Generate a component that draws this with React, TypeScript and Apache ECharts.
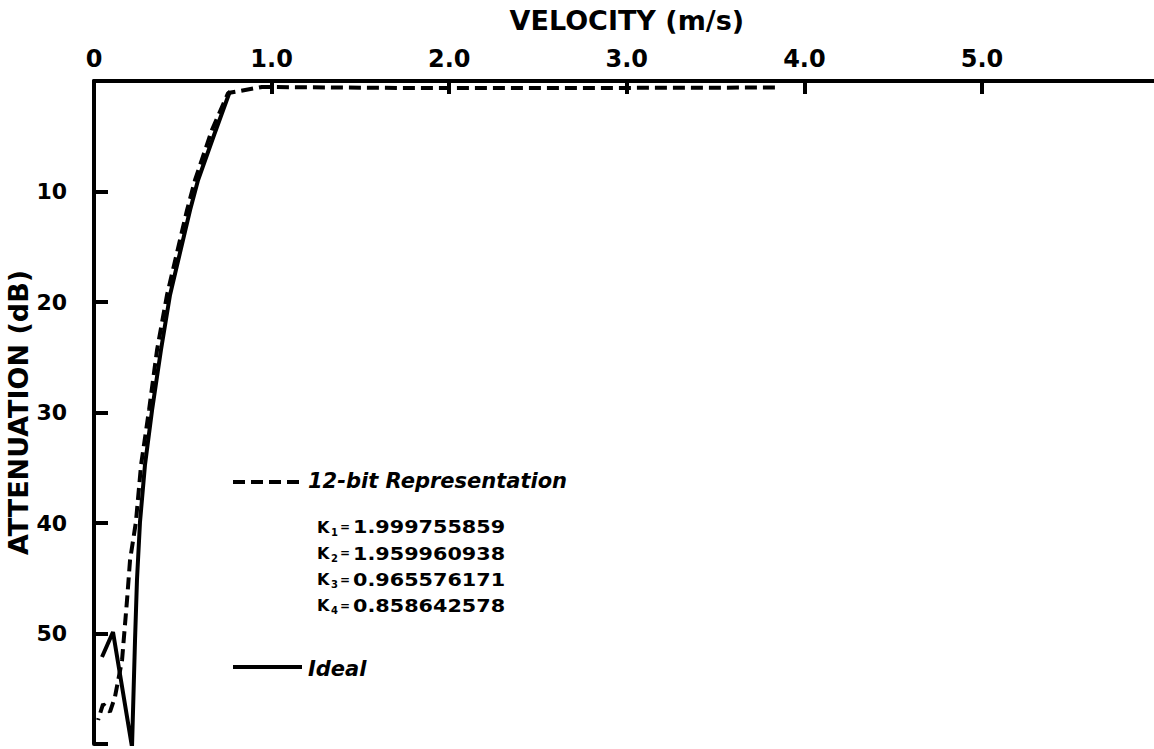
import { useEffect, useRef } from "react";
import * as echarts from "echarts";

// Ideal response (velocity m/s, attenuation dB)
const idealVelocity = [0.766, 0.676, 0.586, 0.541, 0.428, 0.377, 0.327, 0.287, 0.259, 0.242, 0.231, 0.214, 0.107, 0.045];
const idealAttenuation = [0.9, 4.89, 8.96, 11.67, 19.37, 24.34, 29.77, 34.75, 39.91, 45.16, 50.59, 60.27, 49.86, 52.13];

// 12-bit representation response
const bitVelocity = [3.834, 2.849, 1.723, 0.946, 0.755, 0.664, 0.569, 0.524, 0.411, 0.355, 0.31, 0.265, 0.236, 0.203, 0.186, 0.158, 0.118, 0.09, 0.051, 0.023];
const bitAttenuation = [0.59, 0.63, 0.63, 0.54, 1.09, 4.43, 8.96, 11.67, 19.37, 24.34, 29.77, 34.75, 39.91, 43.35, 46.97, 52.4, 55.75, 57.1, 56.38, 57.83];

const coefficientIndex = ["1", "2", "3", "4"];
const coefficientValues = ["1.999755859", "1.959960938", "0.965576171", "0.858642578"];

const FONT = "'DejaVu Sans', 'Liberation Sans', sans-serif";

export default function App() {
  const ref = useRef<HTMLDivElement>(null);

  useEffect(() => {
    if (!ref.current) return;
    const chart = echarts.init(ref.current, null, { renderer: "svg" });

    const idealData = idealVelocity.map((v, i) => [v, idealAttenuation[i]]);
    const bitData = bitVelocity.map((v, i) => [v, bitAttenuation[i]]);

    const kGraphics: any[] = [];
    coefficientValues.forEach((val, i) => {
      const y = 527 + i * 26.3;
      kGraphics.push(
        { type: "text", x: 317, y, style: { text: "K", fontSize: 16, fontWeight: "bold", fontFamily: FONT, fill: "#000", verticalAlign: "middle" } },
        { type: "text", x: 331, y: y + 5, style: { text: coefficientIndex[i], fontSize: 10, fontWeight: "bold", fontFamily: FONT, fill: "#000", verticalAlign: "middle" } },
        { type: "text", x: 340, y, style: { text: "=", fontSize: 12, fontWeight: "bold", fontFamily: FONT, fill: "#000", verticalAlign: "middle" } },
        { type: "text", x: 353, y, scaleX: 1.22, style: { text: val, fontSize: 17, fontWeight: "bold", fontFamily: FONT, fill: "#000", verticalAlign: "middle" } }
      );
    });

    chart.setOption({
      animation: false,
      backgroundColor: "#fff",
      grid: { left: 94, top: 81, width: 1065.6, height: 663, outerBoundsMode: "none", containLabel: false },
      xAxis: {
        type: "value",
        position: "top",
        min: 0,
        max: 6,
        interval: 1,
        name: "VELOCITY (m/s)",
        nameLocation: "middle",
        nameGap: 47,
        nameMoveOverlap: false,
        nameTextStyle: { fontSize: 27, fontWeight: "bold", fontFamily: FONT, color: "#000" },
        axisLine: { lineStyle: { color: "#000", width: 4 } },
        axisTick: { inside: true, length: 13, lineStyle: { color: "#000", width: 4 } },
        axisLabel: {
          margin: 10,
          fontSize: 24,
          fontWeight: "bold",
          fontFamily: FONT,
          color: "#000",
          formatter: (v: number) => (v === 0 ? "0" : v >= 6 ? "" : v.toFixed(1)),
        },
        splitLine: { show: false },
      },
      yAxis: {
        type: "value",
        inverse: true,
        min: 0,
        max: 60,
        interval: 10,
        name: "ATTENUATION (dB)",
        nameLocation: "middle",
        nameGap: 62,
        nameRotate: 90,
        nameMoveOverlap: false,
        nameTextStyle: { fontSize: 27, fontWeight: "bold", fontFamily: FONT, color: "#000" },
        axisLine: { lineStyle: { color: "#000", width: 4 } },
        axisTick: { inside: true, length: 14, lineStyle: { color: "#000", width: 4 } },
        axisLabel: {
          margin: 27,
          fontSize: 22,
          fontWeight: "bold",
          fontFamily: FONT,
          color: "#000",
          formatter: (v: number) => (v === 0 || v === 60 ? "" : String(v)),
        },
        splitLine: { show: false },
      },
      series: [
        {
          name: "Ideal",
          type: "line",
          data: idealData,
          showSymbol: false,
          symbol: "none",
          clip: true,
          lineStyle: { color: "#000", width: 4 },
        },
        {
          name: "12-bit Representation",
          type: "line",
          data: bitData,
          showSymbol: false,
          symbol: "none",
          clip: true,
          lineStyle: { color: "#000", width: 4, type: [12, 6] },
        },
      ],
      graphic: [
        { type: "line", shape: { x1: 233, y1: 482, x2: 302, y2: 482 }, style: { stroke: "#000", lineWidth: 4, lineDash: [12, 6] } },
        { type: "text", x: 308, y: 481, style: { text: "12-bit Representation", fontSize: 21, fontWeight: "bold", fontStyle: "italic", fontFamily: FONT, fill: "#000", verticalAlign: "middle" } },
        ...kGraphics,
        { type: "line", shape: { x1: 233, y1: 667, x2: 302, y2: 667 }, style: { stroke: "#000", lineWidth: 4 } },
        { type: "text", x: 308, y: 669, style: { text: "Ideal", fontSize: 21, fontWeight: "bold", fontStyle: "italic", fontFamily: FONT, fill: "#000", verticalAlign: "middle" } },
      ],
    });

    return () => chart.dispose();
  }, []);

  return (
    <div
      ref={ref}
      style={{ position: "fixed", left: 0, top: 0, width: 1154, height: 749, background: "#fff" }}
    />
  );
}
